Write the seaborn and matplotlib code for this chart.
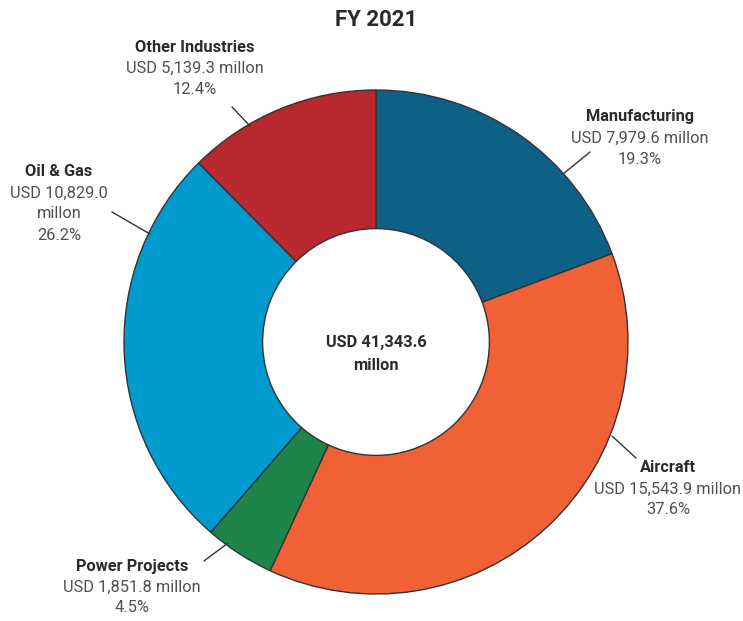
import matplotlib
matplotlib.use("Agg")
import matplotlib.pyplot as plt
import seaborn as sns

categories = ["Manufacturing", "Aircraft", "Power Projects", "Oil & Gas", "Other Industries"]
values = [7979.6, 15543.9, 1851.8, 10829.0, 5139.3]
value_labels = ["USD 7,979.6 millon", "USD 15,543.9 millon", "USD 1,851.8 millon",
                "USD 10,829.0\nmillon", "USD 5,139.3 millon"]
pct_labels = ["19.3%", "37.6%", "4.5%", "26.2%", "12.4%"]
colors = ["#0e6186", "#f06136", "#1e8449", "#009ace", "#b7282f"]
total_label = "USD 41,343.6\nmillon"
title = "FY 2021"

sns.set_theme(style="white")
plt.rcParams['font.family'] = ['Roboto', 'DejaVu Sans']

W, H = 743, 621
fig = plt.figure(figsize=(W / 100, H / 100), dpi=100)
ax = fig.add_axes([0, 0, 1, 1])
ax.set_aspect('equal')
ax.axis('off')

cx, cy, R = 376, 342, 252
ax.pie(values, colors=colors, startangle=90, counterclock=False,
       center=(cx, H - cy), radius=R,
       wedgeprops=dict(width=R * 0.55, edgecolor="#333333", linewidth=1.0))
ax.set_xlim(0, W)
ax.set_ylim(0, H)

# label positions (pixel coords from top) and leader lines
label_pos = [(640, 117), (668, 468), (132, 566), (59, 172), (195, 47)]
lines = [((563, 174), (590, 152)), ((612, 436), (636, 458)), ((228, 543), (204, 561)),
         ((150, 234), (112, 212)), ((250, 126), (232, 107))]
for (x0, y0), (x1, y1) in lines:
    ax.plot([x0, x1], [H - y0, H - y1], color="#333333", lw=1.0)

fs = 11.8
step = 21
for cat, vl, pl, (x, y) in zip(categories, value_labels, pct_labels, label_pos):
    ax.text(x, H - y, cat, ha="center", va="center", fontsize=fs, fontweight="bold", color="#2a2a2a")
    for k, line in enumerate((vl + "\n" + pl).split("\n"), start=1):
        ax.text(x, H - y - step * k, line, ha="center", va="center", fontsize=fs, color="#505050")

for k, line in enumerate(total_label.split("\n")):
    ax.text(cx, H - 342 - 24 * k, line, ha="center", va="center", fontsize=fs,
            fontweight="bold", color="#2a2a2a")
ax.text(cx, H - 20, title, ha="center", va="center", fontsize=16, fontweight="bold", color="#2a2a2a")

fig.savefig("out.png", dpi=100)
